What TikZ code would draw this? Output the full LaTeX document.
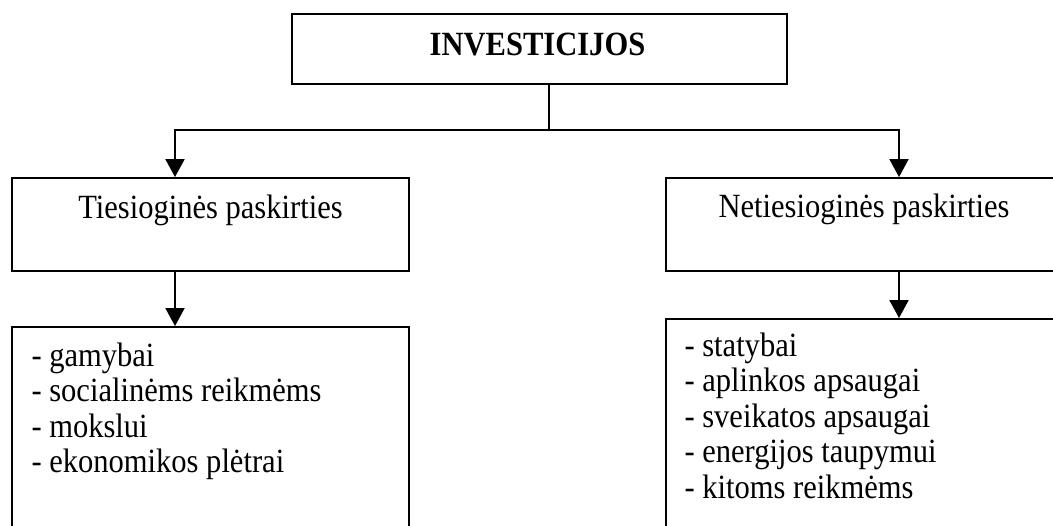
\documentclass[tikz,border=0pt]{standalone}
\usepackage{fontspec}
\setmainfont{Liberation Serif}[FakeStretch=0.9]
\usepackage{tikz}
\usetikzlibrary{arrows.meta, fit}

\newcommand{\bodyfont}{\fontsize{13.3pt}{15.4pt}\selectfont}

\begin{document}
\begin{tikzpicture}[x=0.392pt, y=-0.392pt, font=\bodyfont,
    box/.style={draw, line width=0.75pt, inner sep=0pt},
    item/.style={anchor=base west, inner sep=0pt},
    arrow/.style={line width=0.75pt, -{Triangle[length=7pt, width=7.4pt]}}]
      \useasboundingbox (0,0) rectangle (1053,525);
      \clip (0,0) rectangle (1053,525);
      % Top box
      \node[box, fit={(292,14) (787,84)}] (invest) {};
      \node[anchor=base, font=\bodyfont\bfseries] (title) at (537.5,55) {INVESTICIJOS};
      % Second level
      \node[box, fit={(12,178) (409,271)}] (direct) {};
      \node[anchor=base] (dtitle) at (210.5,218) {Tiesioginės paskirties};
      \node[box, fit={(666,178) (1062,271)}] (indirect) {};
      \node[anchor=base] (ititle) at (864,217) {Netiesioginės paskirties};
      % Lists
      \node[box, fit={(12,327) (409,540)}] (dlist) {};
      \node[item] (d1) at (31,366) {- gamybai};
      \node[item] (d2) at (31,401.5) {- socialinėms reikmėms};
      \node[item] (d3) at (31,437) {- mokslui};
      \node[item] (d4) at (31,472.5) {- ekonomikos plėtrai};
      \node[box, fit={(666,319) (1062,540)}] (ilist) {};
      \node[item] (i1) at (684,356) {- statybai};
      \node[item] (i2) at (684,391.5) {- aplinkos apsaugai};
      \node[item] (i3) at (684,427) {- sveikatos apsaugai};
      \node[item] (i4) at (684,462.5) {- energijos taupymui};
      \node[item] (i5) at (684,498) {- kitoms reikmėms};
      % Connectors
      \coordinate (fork) at (549,130);
      \coordinate (lcol) at (175,130);
      \coordinate (rcol) at (899,130);
      \draw[line width=0.75pt] (fork |- invest.south) -- (fork);
      \draw[arrow] (fork) -| (lcol |- direct.north);
      \draw[arrow] (fork) -| (rcol |- indirect.north);
      \draw[arrow] (lcol |- direct.south) -- (lcol |- dlist.north);
      \draw[arrow] (rcol |- indirect.south) -- (rcol |- ilist.north);
\end{tikzpicture}
\end{document}
